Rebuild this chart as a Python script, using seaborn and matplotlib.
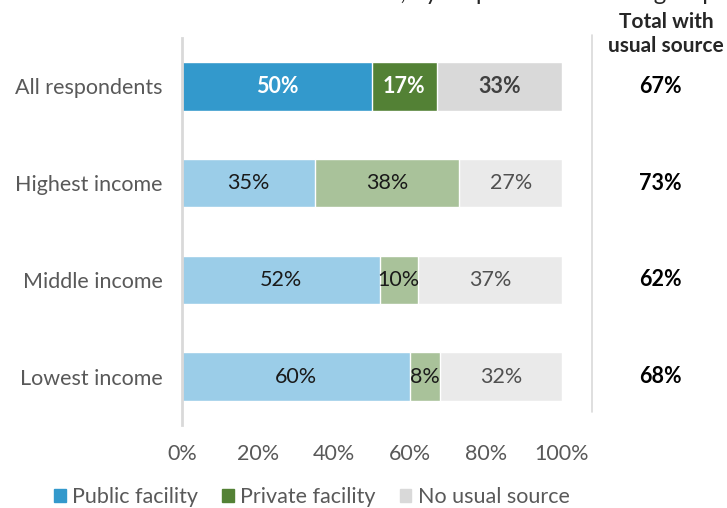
import matplotlib
matplotlib.use("Agg")
import matplotlib.pyplot as plt
from matplotlib.patches import Patch
import seaborn as sns
import numpy as np
import pandas as pd

groups = ["All respondents", "Highest income", "Middle income", "Lowest income"]
# bar widths
public = [50, 35, 52, 60]
private = [17, 38, 10, 8]
no_source = [33, 27, 38, 32]
# printed labels (rounded, as shown in the chart)
public_lbl = ["50%", "35%", "52%", "60%"]
private_lbl = ["17%", "38%", "10%", "8%"]
none_lbl = ["33%", "27%", "37%", "32%"]
totals = ["67%", "73%", "62%", "68%"]
x_ticks = [0, 20, 40, 60, 80, 100]

# first row dark, income rows in lighter tints
pub_colors = ["#3399CC", "#9BCDE8", "#9BCDE8", "#9BCDE8"]
priv_colors = ["#538135", "#A9C29A", "#A9C29A", "#A9C29A"]
none_colors = ["#D9D9D9", "#EAEAEA", "#EAEAEA", "#EAEAEA"]

df = pd.DataFrame({"group": groups, "public": public,
                   "private": private, "none": no_source})
df["cum2"] = df["public"] + df["private"]
df["cum3"] = df["cum2"] + df["none"]

sns.set_style("white")
plt.rcParams["font.family"] = ["Lato", "DejaVu Sans"]
FS = 15.5

fig = plt.figure(figsize=(7.27, 5.08), dpi=100)
ax = fig.add_axes([182 / 727, 83 / 508, 380 / 727, 387 / 508])

# stacked bars: draw cumulative widths from back to front
sns.barplot(data=df, x="cum3", y="group", hue="group", palette=none_colors,
            width=0.5, legend=False, ax=ax, saturation=1)
sns.barplot(data=df, x="cum2", y="group", hue="group", palette=priv_colors,
            width=0.5, legend=False, ax=ax, saturation=1)
sns.barplot(data=df, x="public", y="group", hue="group", palette=pub_colors,
            width=0.5, legend=False, ax=ax, saturation=1)

ax.set_xlim(0, 100)
ax.set_ylim(3.5, -0.5)
ax.set_xlabel("")
ax.set_ylabel("")
ax.set_xticks(x_ticks)
ax.set_xticklabels([f"{t}%" for t in x_ticks], fontsize=FS, color="#595959")
ax.set_yticks(range(len(groups)))
ax.set_yticklabels(groups, fontsize=FS, color="#595959")
ax.tick_params(axis="y", pad=14, length=0)
ax.tick_params(axis="x", pad=14, length=0)
for s in ["top", "right", "bottom"]:
    ax.spines[s].set_visible(False)
ax.spines["left"].set_color("#D9D9D9")
ax.spines["left"].set_linewidth(2)

for i in range(len(groups)):
    first = i == 0
    w = "bold" if first else "normal"
    c1 = "white" if first else "#1a1a1a"
    ax.text(public[i] / 2, i, public_lbl[i], ha="center", va="center",
            fontsize=FS, color=c1, fontweight=w)
    ax.text(public[i] + private[i] / 2, i, private_lbl[i], ha="center",
            va="center", fontsize=FS, color=c1, fontweight=w)
    ax.text(public[i] + private[i] + no_source[i] / 2, i, none_lbl[i],
            ha="center", va="center", fontsize=FS,
            color="#404040" if first else "#505050", fontweight=w)
    ax.text(126, i, totals[i], ha="center", va="center", fontsize=FS,
            color="black", fontweight="bold")

# divider and right column header
fig.add_artist(plt.Line2D([592 / 727, 592 / 727], [1 - 35 / 508, 1 - 412 / 508],
                          color="#D9D9D9", lw=1.2))
fig.text(666 / 727, 1 - 34 / 508, "Total with\nusual source", ha="center",
         va="center", fontsize=15, fontweight="bold", linespacing=1.25)
# title sits above the canvas, only its descenders show (as in the reference)
fig.text(716 / 727, 1 + 0 / 508, "Usual source of care, by respondent income group",
         ha="right", va="baseline", fontsize=17.3)

handles = [Patch(color="#3399CC", label="Public facility"),
           Patch(color="#538135", label="Private facility"),
           Patch(color="#D9D9D9", label="No usual source")]
leg = fig.legend(handles=handles, loc="center", bbox_to_anchor=(312 / 727, 1 - 497 / 508),
                 ncol=3, frameon=False, fontsize=15.5, handlelength=0.55,
                 handleheight=0.55, handletextpad=0.3, columnspacing=1.1)
for t in leg.get_texts():
    t.set_color("#595959")

fig.savefig("out.png", dpi=100)
